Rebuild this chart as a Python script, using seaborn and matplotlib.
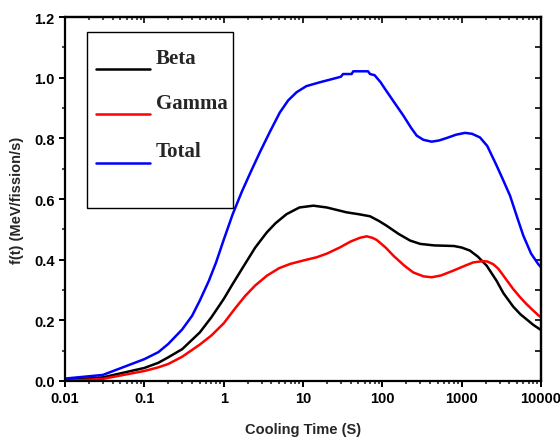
import matplotlib
matplotlib.use("Agg")
import matplotlib.pyplot as plt
import matplotlib.ticker as mticker
from matplotlib.patches import Rectangle
import numpy as np
import pandas as pd
import seaborn as sns

# ---- data ----
total_t = [0.01, 0.03, 0.1, 0.15, 0.2, 0.3, 0.4, 0.5, 0.65, 0.8, 1, 1.3, 1.7,
           2.2, 2.87, 3.8, 5.1, 6.5, 8.3, 11, 16.4, 23, 30, 32, 41, 43, 66, 70,
           80, 95, 108, 140, 184, 230, 271, 330, 419, 520, 646, 850, 1100,
           1350, 1700, 2100, 2760, 3300, 4070, 5000, 5990, 7500, 9250, 10000]
total_f = [0.008, 0.02, 0.072, 0.095, 0.122, 0.17, 0.215, 0.265, 0.33, 0.39,
           0.465, 0.55, 0.625, 0.69, 0.755, 0.82, 0.885, 0.925, 0.952, 0.972,
           0.985, 0.995, 1.003, 1.012, 1.012, 1.021, 1.021, 1.012, 1.008,
           0.985, 0.963, 0.92, 0.875, 0.835, 0.809, 0.795, 0.789, 0.793, 0.801,
           0.812, 0.818, 0.815, 0.803, 0.775, 0.71, 0.665, 0.611, 0.54, 0.479,
           0.42, 0.385, 0.375]

beta_t = [0.01, 0.03, 0.1, 0.15, 0.2, 0.3, 0.5, 0.7, 1, 1.3, 1.8, 2.5, 3.5,
          4.5, 6.2, 9, 13.5, 20, 35.5, 50, 70, 90, 113, 160, 224, 300, 450,
          800, 1000, 1270, 1600, 2070, 2760, 3350, 4470, 5500, 6600, 8000,
          10000]
beta_f = [0.003, 0.012, 0.043, 0.06, 0.078, 0.105, 0.16, 0.21, 0.27, 0.32,
          0.38, 0.44, 0.49, 0.52, 0.55, 0.572, 0.578, 0.572, 0.556, 0.55,
          0.543, 0.528, 0.512, 0.485, 0.463, 0.452, 0.447, 0.445, 0.44, 0.43,
          0.41, 0.38, 0.33, 0.29, 0.245, 0.22, 0.203, 0.185, 0.168]

gamma_t = [0.01, 0.03, 0.1, 0.15, 0.2, 0.3, 0.5, 0.7, 1, 1.4, 1.86, 2.5, 3.5,
           5, 6.9, 10, 14.9, 20, 29, 40, 52, 63.5, 75, 85, 110, 138, 190, 245,
           330, 419, 550, 786, 1100, 1400, 1830, 2100, 2500, 2900, 3300, 4470,
           5500, 6600, 8000, 9250, 10000]
gamma_f = [0.0, 0.007, 0.033, 0.045, 0.056, 0.08, 0.12, 0.15, 0.19, 0.24,
           0.28, 0.315, 0.347, 0.372, 0.386, 0.397, 0.408, 0.42, 0.44, 0.46,
           0.472, 0.477, 0.472, 0.465, 0.44, 0.413, 0.38, 0.358, 0.345, 0.342,
           0.348, 0.364, 0.38, 0.391, 0.395, 0.394, 0.385, 0.37, 0.35, 0.303,
           0.275, 0.253, 0.232, 0.217, 0.21]

series = ["Beta", "Gamma", "Total"]
colors = ["#000000", "#ff0000", "#0000ff"]

xticks = [0.01, 0.1, 1, 10, 100, 1000, 10000]
xtick_labels = ["0.01", "0.1", "1", "10", "100", "1000", "10000"]
yticks = [0.0, 0.2, 0.4, 0.6, 0.8, 1.0, 1.2]

df = pd.concat([
    pd.DataFrame({"t": beta_t, "f": beta_f, "kind": "Beta"}),
    pd.DataFrame({"t": gamma_t, "f": gamma_f, "kind": "Gamma"}),
    pd.DataFrame({"t": total_t, "f": total_f, "kind": "Total"}),
], ignore_index=True)

sns.set_style("ticks")
plt.rcParams["font.family"] = ["Liberation Sans", "DejaVu Sans"]

fig = plt.figure(figsize=(5.6, 4.39), dpi=100)
ax = fig.add_axes([65 / 560, 57 / 439, 476 / 560, 364 / 439])

sns.lineplot(data=df, x="t", y="f", hue="kind", hue_order=series,
             palette=dict(zip(series, colors)), linewidth=1.8, ax=ax,
             legend=False, sort=True, estimator=None)
for ln in ax.get_lines():
    ln.set_solid_joinstyle("round")

ax.set_xscale("log")
ax.set_xlim(0.01, 10000)
ax.set_ylim(0, 1.2)

ax.set_xticks(xticks)
ax.set_xticklabels(xtick_labels)
ax.xaxis.set_minor_locator(mticker.LogLocator(base=10, subs=np.arange(2, 10), numticks=20))
ax.xaxis.set_minor_formatter(mticker.NullFormatter())
ax.set_yticks(yticks)
ax.set_yticklabels([f"{v:.1f}" for v in yticks])
ax.yaxis.set_minor_locator(mticker.MultipleLocator(0.1))

for sp in ax.spines.values():
    sp.set_visible(True)
    sp.set_linewidth(1.6)
    sp.set_color("black")

ax.tick_params(which="major", direction="out", length=4.5, width=1.4,
               labelsize=10.5, colors="black", pad=3)
ax.tick_params(which="minor", direction="out", length=2.5, width=1.2)
for lab in ax.get_xticklabels() + ax.get_yticklabels():
    lab.set_fontweight("bold")

# mirrored ticks on top/right pointing inward
secx = ax.secondary_xaxis("top")
secx.set_xticks(xticks)
secx.xaxis.set_minor_locator(mticker.LogLocator(base=10, subs=np.arange(2, 10), numticks=20))
secx.tick_params(which="major", direction="in", length=4.5, width=1.4, labeltop=False)
secx.tick_params(which="minor", direction="in", length=2.5, width=1.2)
secx.xaxis.set_minor_formatter(mticker.NullFormatter())
secx.spines["top"].set_linewidth(1.6)

secy = ax.secondary_yaxis("right")
secy.set_yticks(yticks)
secy.yaxis.set_minor_locator(mticker.MultipleLocator(0.1))
secy.tick_params(which="major", direction="in", length=4.5, width=1.4, labelright=False)
secy.tick_params(which="minor", direction="in", length=4.5, width=1.4)
secy.spines["right"].set_linewidth(1.6)

ax.set_xlabel("Cooling Time (S)", fontsize=10.5, fontweight="bold", labelpad=12)
ax.set_ylabel("f(t) (MeV/fission/s)", fontsize=10.5, fontweight="bold", labelpad=7)

# legend box (Origin style: text above the line sample)
ax.add_patch(Rectangle((0.047, 0.4745), 0.3066, 0.4835, transform=ax.transAxes,
                       fill=False, edgecolor="black", linewidth=1.0, zorder=5))
line_y = [0.8571, 0.7335, 0.599]
text_y = [0.8736, 0.749, 0.619]
for name, c, ly, ty in zip(series, colors, line_y, text_y):
    ax.plot([0.065, 0.1786], [ly, ly], color=c, linewidth=1.8,
            transform=ax.transAxes, zorder=6)
    ax.text(0.191, ty, name, transform=ax.transAxes, ha="left", va="baseline",
            fontsize=15, fontweight="bold",
            family=["Liberation Serif", "DejaVu Serif"], zorder=6)

fig.savefig("out.png", dpi=100)
